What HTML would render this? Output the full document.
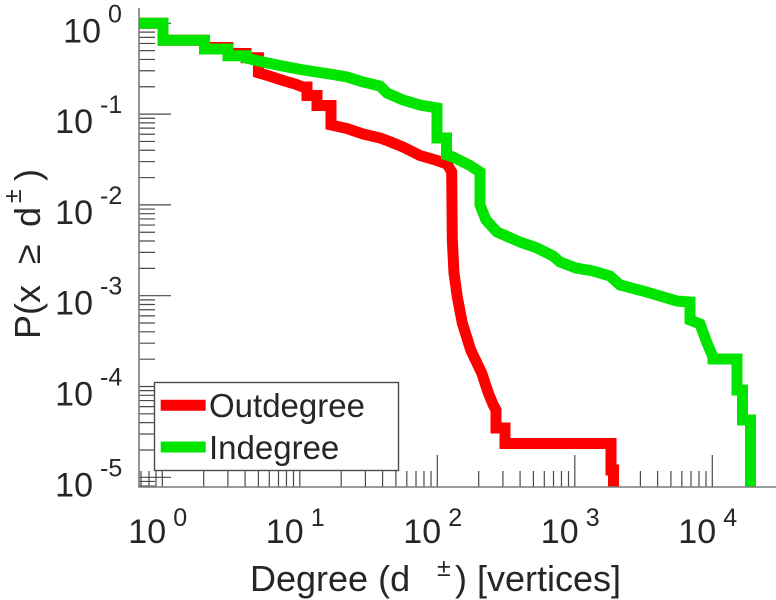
<!DOCTYPE html>
<html>
<head>
<meta charset="utf-8">
<style>
  html, body { margin:0; padding:0; background:#ffffff; }
  svg { display:block; }
  text { font-family: "Liberation Sans", "DejaVu Sans", sans-serif; fill:#262626; }
</style>
</head>
<body>
<svg width="776" height="600" viewBox="0 0 776 600" xmlns="http://www.w3.org/2000/svg">
  <defs>
    <clipPath id="plot">
      <rect x="139" y="8" width="637" height="479"/>
    </clipPath>
  </defs>
  <rect x="0" y="0" width="776" height="600" fill="#ffffff"/>

  <!-- Y minor ticks -->
  <g stroke="#4a4a4a" stroke-width="1.2" fill="none">
    <path d="
      M139 86.77H155 M139 70.78H155 M139 59.43H155 M139 50.63H155 M139 43.44H155 M139 37.36H155 M139 32.10H155 M139 27.45H155
      M139 177.57H155 M139 161.58H155 M139 150.23H155 M139 141.43H155 M139 134.24H155 M139 128.16H155 M139 122.90H155 M139 118.25H155
      M139 268.37H155 M139 252.38H155 M139 241.03H155 M139 232.23H155 M139 225.04H155 M139 218.96H155 M139 213.70H155 M139 209.05H155
      M139 359.17H155 M139 343.18H155 M139 331.83H155 M139 323.03H155 M139 315.84H155 M139 309.76H155 M139 304.50H155 M139 299.85H155
      M139 449.97H155 M139 433.98H155 M139 422.63H155 M139 413.83H155 M139 406.64H155 M139 400.56H155 M139 395.30H155 M139 390.65H155
      M139 481.45H155 M139 486.1H155"/>
    <!-- Y major ticks -->
    <path d="M139 23.3H171 M139 114.1H171 M139 204.9H171 M139 295.7H171 M139 386.5H171 M139 477.3H171"/>
    <!-- X minor ticks -->
    <path d="
      M141 487V471 M148.97 487V471 M156 487V471
      M203.69 487V471 M227.9 487V471 M245.08 487V471 M258.41 487V471 M269.3 487V471 M278.5 487V471 M286.47 487V471 M293.51 487V471
      M341.19 487V471 M365.4 487V471 M382.58 487V471 M395.91 487V471 M406.8 487V471 M416 487V471 M423.97 487V471 M431.01 487V471
      M478.69 487V471 M502.9 487V471 M520.08 487V471 M533.41 487V471 M544.3 487V471 M553.5 487V471 M561.47 487V471 M568.51 487V471
      M616.19 487V471 M640.4 487V471 M657.58 487V471 M670.91 487V471 M681.8 487V471 M691 487V471 M698.97 487V471 M706.01 487V471
      M753.69 487V471"/>
    <!-- X major ticks -->
    <path d="M162.3 487V455 M299.8 487V455 M437.3 487V455 M574.8 487V455 M712.3 487V455"/>
  </g>

  <!-- Data -->
  <g clip-path="url(#plot)" fill="none" stroke-width="11" stroke-linejoin="miter" stroke-linecap="butt" stroke-miterlimit="10">
    <path stroke="#ff0000" d="M130 23.3 H163 V40.3 H204.5 V47.5 H228 V53.5 H246 V57.8 H258.4 V72.8 L269.3 76 L283 80.5 L295 84 L303 87 H307 V95.5 H317 V105.5 H331 V125 L347 128.5 L363 134 L380 138 L387 140.5 L403 147 L420 155.5 L437 160.5 L447 164 L451.7 172 L452.3 240 L454 273 L457.3 297 L462.3 323 L470.7 350 L481.7 373 L488.3 393 L493.3 405 L496 410 V428 H505 V443.5 H611 V470 H613.5 V500"/>
    <path stroke="#00e400" d="M130 23.3 H163 V40.3 H204.5 V49 H228 V55.8 H246 V58 L263 62 L280 65.5 L297 68.8 L313 71.5 L330 74 L347 77 L363 82 L380 86 L387 93 L403 100 L420 105 L437 108 V138 H446.5 V155 L453 157 L470 165.5 L480 172 V205 L486 220 L497 232 L520 242 L537 248 L553 256 L560 262 L576 268 L593 271 L610 276 L620 285 L643 291 L660 296 L677 301 L690 302 V320 L700 324 L707 343 L713 357 V359 H737 V390 H742.5 V420 H750.5 V500"/>
  </g>

  <!-- Axes lines -->
  <g stroke="#7a7a7a" stroke-width="1.6" fill="none">
    <path d="M139 8 V487 H776"/>
  </g>

  <!-- Y tick labels -->
  <g font-size="34">
    <text x="101" y="42.3" text-anchor="end">10</text>
    <text x="93" y="133.1" text-anchor="end">10</text>
    <text x="93" y="223.9" text-anchor="end">10</text>
    <text x="93" y="314.7" text-anchor="end">10</text>
    <text x="93" y="405.5" text-anchor="end">10</text>
    <text x="93" y="496.3" text-anchor="end">10</text>
  </g>
  <g font-size="25">
    <text x="108" y="22.3">0</text>
    <text x="100" y="113.1">-1</text>
    <text x="100" y="203.9">-2</text>
    <text x="100" y="294.7">-3</text>
    <text x="100" y="385.5">-4</text>
    <text x="100" y="476.3">-5</text>
  </g>

  <!-- X tick labels -->
  <g font-size="34">
    <text x="128.3" y="543">10</text>
    <text x="265.8" y="543">10</text>
    <text x="403.3" y="543">10</text>
    <text x="540.8" y="543">10</text>
    <text x="678.3" y="543">10</text>
  </g>
  <g font-size="25">
    <text x="173.3" y="526">0</text>
    <text x="310.8" y="526">1</text>
    <text x="448.3" y="526">2</text>
    <text x="585.8" y="526">3</text>
    <text x="723.3" y="526">4</text>
  </g>

  <!-- X axis label -->
  <text x="250" y="591" font-size="36">Degree (d</text>
  <text x="437" y="576" font-size="25">±</text>
  <text x="455" y="591" font-size="36">) [vertices]</text>

  <!-- Y axis label (rotated) -->
  <g font-size="36">
    <text transform="translate(40,339) rotate(-90)">P(x</text>
    <text transform="translate(40,264) rotate(-90)">≥</text>
    <text transform="translate(40,227) rotate(-90)">d</text>
    <text transform="translate(40,181) rotate(-90)">)</text>
  </g>
  <text transform="translate(21,203) rotate(-90)" font-size="25">±</text>

  <!-- Legend -->
  <rect x="154.5" y="382.5" width="244" height="88" fill="#ffffff" stroke="#4d4d4d" stroke-width="1.4"/>
  <line x1="160.7" y1="405.3" x2="205.7" y2="405.3" stroke="#ff0000" stroke-width="11"/>
  <line x1="160.7" y1="447" x2="205.7" y2="447" stroke="#00e400" stroke-width="11"/>
  <text x="209" y="417" font-size="33">Outdegree</text>
  <text x="209" y="459" font-size="33">Indegree</text>
</svg>
</body>
</html>
